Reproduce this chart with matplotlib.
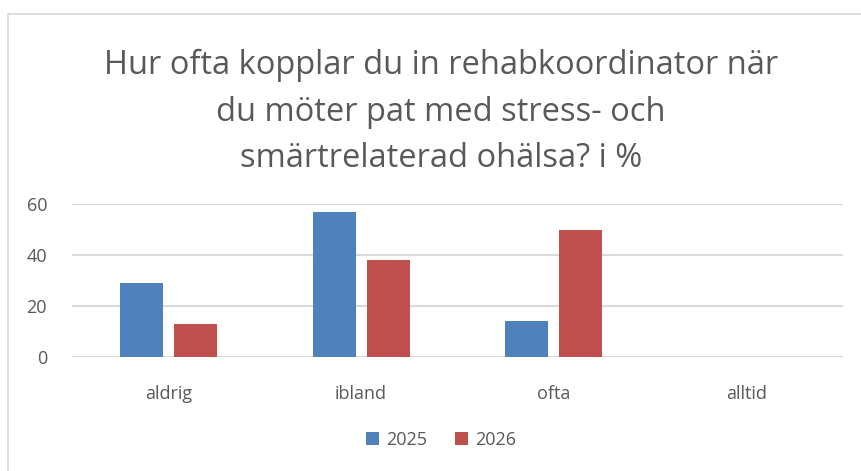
import numpy as np
import matplotlib
matplotlib.use('Agg')
import matplotlib.pyplot as plt
from matplotlib.patches import Rectangle

plt.rcParams['font.family'] = ['Open Sans', 'DejaVu Sans']

categories = ['aldrig', 'ibland', 'ofta', 'alltid']
series = ['2025', '2026']
values2025 = [29, 57, 14, 0]
values2026 = [13, 38, 50, 0]
colors = ['#4f81bd', '#c0504d']
yticks = [0, 20, 40, 60]
title = 'Hur ofta kopplar du in rehabkoordinator när\ndu möter pat med stress- och\nsmärtrelaterad ohälsa? i %'

textColor = '#595959'
gridColor = '#d9d9d9'

W, H = 861, 471
fig = plt.figure(figsize=(W / 100, H / 100), dpi=100)

# chart frame (only top and left edge visible in the crop)
fig.patches.append(Rectangle((8 / W, -0.2), 1.2, (H - 14) / H + 0.2, transform=fig.transFigure,
                             fill=False, edgecolor=gridColor, linewidth=1.2))

ax = fig.add_axes([72 / W, (H - 357) / H, (843 - 72) / W, (357 - 204) / H])

x = np.arange(len(categories))
barWidth = 0.223
gap = 0.057
ax.bar(x - (barWidth + gap) / 2, values2025, width=barWidth, color=colors[0], label=series[0], zorder=3)
ax.bar(x + (barWidth + gap) / 2, values2026, width=barWidth, color=colors[1], label=series[1], zorder=3)

ax.set_xlim(-0.5, len(categories) - 0.5)
ax.set_ylim(0, 60)
ax.set_yticks(yticks)
ax.set_xticks(x)
ax.set_xticklabels(categories)
ax.tick_params(axis='both', length=0, labelsize=13, colors=textColor)
ax.tick_params(axis='x', pad=20)
ax.tick_params(axis='y', pad=18)

ax.grid(axis='y', color=gridColor, linewidth=1.5, zorder=0)
for s in ax.spines.values():
    s.set_visible(False)

fig.text(441 / W, (H - 112) / H, title, ha='center', va='center', fontsize=23.5,
         color=textColor, linespacing=1.55)

fig.legend(loc='center', bbox_to_anchor=(441 / W, (H - 440) / H), ncol=2, frameon=False,
           fontsize=13, labelcolor=textColor, handlelength=0.75, handleheight=0.75,
           handletextpad=0.4, columnspacing=1.5)

fig.savefig('out.png', dpi=100)
